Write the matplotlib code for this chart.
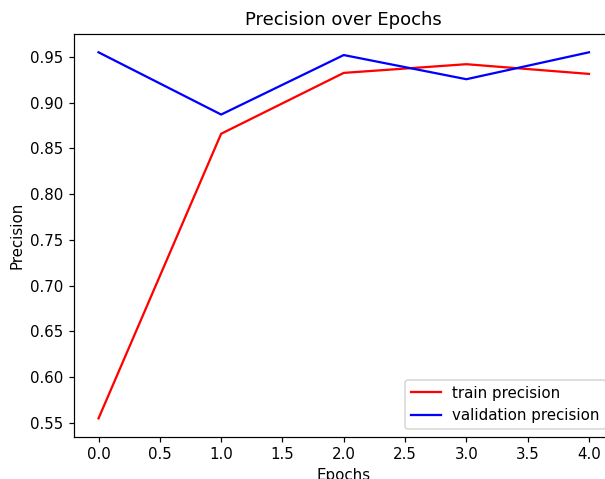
import matplotlib
matplotlib.use("Agg")
import matplotlib.pyplot as plt

epochs = [0, 1, 2, 3, 4]
train_precision = [0.555, 0.866, 0.9325, 0.942, 0.9314]
val_precision = [0.955, 0.887, 0.952, 0.9256, 0.955]

DPI = 108
fig = plt.figure(figsize=(605 / DPI, 479 / DPI), dpi=DPI)
ax = fig.add_axes([74 / 605, 1 - 436.7 / 479, (613.5 - 74) / 605, (436.7 - 34) / 479])
ax.plot(epochs, train_precision, color="red", label="train precision")
ax.plot(epochs, val_precision, color="blue", label="validation precision")
ax.set_title("Precision over Epochs")
ax.set_xlabel("Epochs")
ax.set_ylabel("Precision")
ax.legend(loc="lower right")
fig.savefig("out.png", dpi=DPI)
